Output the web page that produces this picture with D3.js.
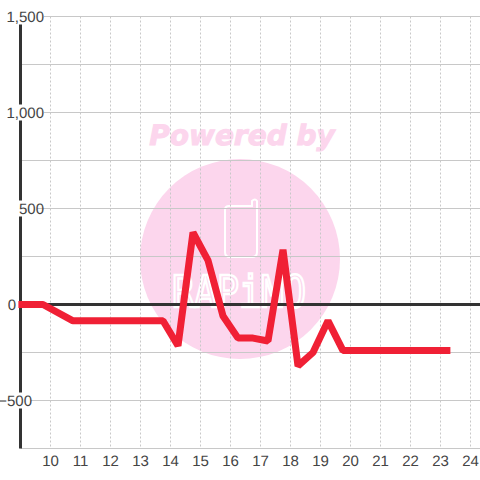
<!DOCTYPE html>
<html>
<head>
<meta charset="utf-8">
<script src="https://cdn.jsdelivr.net/npm/d3@7"></script>
<style>
  html, body { margin: 0; padding: 0; background: #fff; }
  text { font-family: "Liberation Sans", sans-serif; text-rendering: geometricPrecision; }
</style>
</head>
<body>
<script>
var hours = [8.93, 9.75, 10.75, 11.75, 12.75, 13.75, 14.25, 14.75, 15.25, 15.75, 16.25, 16.75, 17.25, 17.75, 18.25, 18.75, 19.25, 19.75, 20.75, 21.75, 22.75, 23.33];
var values = [0, 0, -85, -85, -85, -85, -215, 375, 230, -60, -175, -175, -190, 285, -320, -250, -85, -240, -240, -240, -240, -240];
var xTicks = [10, 11, 12, 13, 14, 15, 16, 17, 18, 19, 20, 21, 22, 23, 24];
var yTicks = [-750, -500, -250, 0, 250, 500, 750, 1000, 1250, 1500];
var yLabels = [-500, 0, 500, 1000, 1500];

var svg = d3.select("body").append("svg").attr("width", 480).attr("height", 480).style("display", "block");

var x = d3.scaleLinear().domain([9, 24.33]).range([20.5, 480.4]);
var y = d3.scaleLinear().domain([-750, 1500]).range([448.5, 16.5]);

// watermark sits under the grid
var mark = svg.append("g");
mark.append("circle").attr("cx", 240).attr("cy", 259).attr("r", 100).attr("fill", "#fcd6ed");
mark.append("text").attr("x", 242).attr("y", 145)
  .attr("text-anchor", "middle")
  .style("font-family", "DejaVu Sans")
  .style("font-weight", "bold").style("font-style", "italic").style("font-size", "28px")
  .attr("fill", "#fcd6ed").attr("stroke", "#fcd6ed").attr("stroke-width", 1).text("Powered by");
mark.append("path").attr("d", "M229 206H252V201Q255 198 257 201V252Q257 257 252 257H230Q225 257 225 252V210Q225 206 229 206Z")
  .attr("fill", "none").attr("stroke", "#fff").attr("stroke-width", 2);
mark.append("text").attr("x", 172).attr("y", 307)
  .attr("textLength", 134).attr("lengthAdjust", "spacingAndGlyphs")
  .style("font-family", "DejaVu Sans Mono").style("font-size", "44px")
  .attr("fill", "none").attr("stroke", "#fff").attr("stroke-width", 2.5).text("RAPiMO");

var grid = svg.append("g");
grid.selectAll("line.h").data(yTicks.filter(function(d) { return d != 0; })).enter().append("line")
  .attr("class", "h")
  .attr("x1", x.range()[0]).attr("x2", 480)
  .attr("y1", function(d) { return y(d); }).attr("y2", function(d) { return y(d); })
  .attr("stroke", "#c8c8c8").attr("stroke-width", 1);
grid.selectAll("line.v").data(xTicks).enter().append("line")
  .attr("class", "v")
  .attr("x1", function(d) { return x(d); }).attr("x2", function(d) { return x(d); })
  .attr("y1", y.range()[1]).attr("y2", y.range()[0])
  .attr("stroke", "#c8c8c8").attr("stroke-width", 1).attr("stroke-dasharray", "2,2");

// zero line and the y axis bar
svg.append("line").attr("x1", x.range()[0]).attr("x2", 480).attr("y1", y(0)).attr("y2", y(0))
  .attr("stroke", "#333").attr("stroke-width", 3);
svg.append("line").attr("x1", x.range()[0]).attr("x2", x.range()[0]).attr("y1", y.range()[1]).attr("y2", y.range()[0])
  .attr("stroke", "#333").attr("stroke-width", 3);

var line = d3.line()
  .x(function(d, i) { return x(hours[i]); })
  .y(function(d) { return y(d); });

svg.append("path").datum(values)
  .attr("d", line)
  .attr("fill", "none")
  .attr("stroke", "#f02035")
  .attr("stroke-width", 7)
  .attr("stroke-linejoin", "bevel");

// y labels have a white box that cuts the axis bar
var yl = svg.append("g").selectAll("g").data(yLabels).enter().append("g");
yl.append("rect")
  .attr("x", function(d) { return d == 0 ? 7 : (d == -500 ? 2 : (d == 500 ? 7 : 5)); })
  .attr("y", function(d) { return y(d) - 8; })
  .attr("width", function(d) { return d == 0 ? 10 : (d == -500 ? 29 : (d == 500 ? 30 : 39)); })
  .attr("height", 16)
  .attr("fill", "#fff");
yl.append("text")
  .attr("x", function(d) { return d == -500 ? 32 : (d == 0 ? 16 : 44); })
  .attr("y", function(d) { return y(d) + 5; })
  .attr("text-anchor", "end")
  .attr("fill", "#444")
  .style("font-size", "15px")
  .text(function(d) { return d3.format(",")(d); });

svg.append("g").selectAll("text").data(xTicks).enter().append("text")
  .attr("x", function(d) { return x(d); })
  .attr("y", 466)
  .attr("text-anchor", "middle")
  .attr("fill", "#444")
  .style("font-size", "15px")
  .text(function(d) { return d; });
</script>
</body>
</html>
